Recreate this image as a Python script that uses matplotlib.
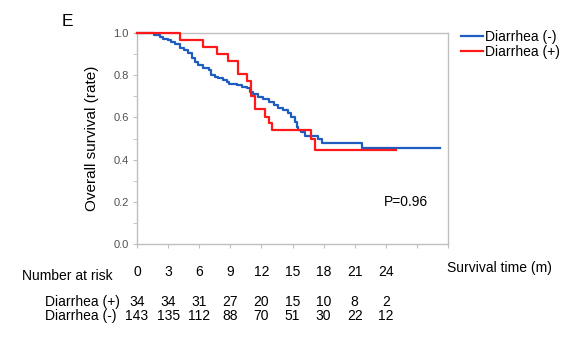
import matplotlib
matplotlib.use("Agg")
import matplotlib.pyplot as plt
import matplotlib.transforms as mtransforms

plt.rcParams['font.family'] = ['Liberation Sans', 'DejaVu Sans']

# Kaplan-Meier step data (months, survival)
red_t = [0, 4.15, 6.4, 7.75, 8.8, 9.75, 10.6, 10.95, 11.35, 12.3, 12.75, 13.05, 16.8, 17.15, 25.0]
red_s = [1.0, 0.967, 0.935, 0.90, 0.869, 0.806, 0.773, 0.70, 0.638, 0.60, 0.572, 0.538, 0.50, 0.447, 0.447]

blue_t = [0, 1.6, 2.2, 2.5, 3.0, 3.3, 3.7, 4.1, 4.5, 4.9, 5.3, 5.6, 5.9, 6.4, 6.9, 7.1,
          7.5, 7.85, 8.3, 8.65, 8.85, 9.6, 10.1, 10.6, 10.9, 11.2, 11.7, 12.2, 12.7, 13.2,
          13.6, 14.1, 14.6, 14.9, 15.2, 15.4, 15.55, 15.8, 16.2, 17.5, 17.8, 21.7, 29.2]
blue_s = [1.0, 0.99, 0.983, 0.972, 0.965, 0.959, 0.946, 0.93, 0.919, 0.904, 0.88, 0.864, 0.848, 0.833, 0.825, 0.80,
          0.793, 0.785, 0.777, 0.766, 0.757, 0.754, 0.746, 0.738, 0.722, 0.709, 0.698, 0.686, 0.674, 0.659,
          0.643, 0.635, 0.619, 0.603, 0.58, 0.556, 0.54, 0.532, 0.51, 0.496, 0.477, 0.453, 0.453]

risk_times = [0, 3, 6, 9, 12, 15, 18, 21, 24]
risk_pos = [34, 34, 31, 27, 20, 15, 10, 8, 2]
risk_neg = [143, 135, 112, 88, 70, 51, 30, 22, 12]

x_ticks = list(range(0, 31, 3))
x_ticklabels = ['0', '3', '6', '9', '12', '15', '18', '21', '24', '', '']
y_ticks = [0.0, 0.2, 0.4, 0.6, 0.8, 1.0]
y_ticklabels = ['0.0', '0.2', '0.4', '0.6', '0.8', '1.0']
y_minor = [0.1, 0.3, 0.5, 0.7, 0.9]

BLUE = '#1f5cbf'
RED = '#ff1a1a'
GRAY = '#bfbfbf'

W, H = 562, 339
fig = plt.figure(figsize=(W / 100, H / 100), dpi=100)
ax = fig.add_axes([137 / W, 1 - 244 / H, (448 - 137) / W, (244 - 33) / H])

ax.step(blue_t, blue_s, where='post', color=BLUE, lw=1.6, label='Diarrhea (-)', clip_on=False, zorder=3)
ax.step(red_t, red_s, where='post', color=RED, lw=1.6, label='Diarrhea (+)', clip_on=False, zorder=4)

ax.set_xlim(0, 30)
ax.set_ylim(0, 1.0)
for sp in ax.spines.values():
    sp.set_color(GRAY)
    sp.set_linewidth(1.0)
    sp.set_zorder(1)

ax.set_xticks(x_ticks)
ax.set_xticklabels(x_ticklabels, fontsize=10)
ax.tick_params(axis='x', direction='out', length=3, color=GRAY, pad=12, labelcolor='black')
ax.set_yticks(y_ticks)
ax.set_yticklabels(y_ticklabels, fontsize=8, color='#505050')
ax.set_yticks(y_minor, minor=True)
ax.tick_params(axis='y', which='both', direction='out', length=3, color=GRAY, pad=3)

ax.set_ylabel('Overall survival (rate)', fontsize=11, labelpad=10)

fig.text(406 / W, 1 - 201.7 / H, 'P=0.96', fontsize=10, ha='center', va='center')
fig.text(62 / W, 1 - 22 / H, 'E', fontsize=12.5, ha='left', va='center')
fig.text(447 / W, 1 - 268 / H, 'Survival time (m)', fontsize=10, ha='left', va='center')
fig.text(22 / W, 1 - 275.7 / H, 'Number at risk', fontsize=10, ha='left', va='center')
fig.text(45 / W, 1 - 301.7 / H, 'Diarrhea (+)', fontsize=10, ha='left', va='center')
fig.text(45 / W, 1 - 315.7 / H, 'Diarrhea (-)', fontsize=10, ha='left', va='center')

trans = mtransforms.blended_transform_factory(ax.transData, fig.transFigure)
for t, p, n in zip(risk_times, risk_pos, risk_neg):
    ax.text(t, 1 - 301.7 / H, str(p), transform=trans, fontsize=10, ha='center', va='center', clip_on=False)
    ax.text(t, 1 - 315.7 / H, str(n), transform=trans, fontsize=10, ha='center', va='center', clip_on=False)

fig.legend(loc='upper left', bbox_to_anchor=(461 / W, 1 - 30 / H), frameon=False,
           fontsize=10, handlelength=1.6, handletextpad=0.15, labelspacing=0.05,
           borderpad=0, borderaxespad=0)

fig.savefig('out.png', dpi=100)
